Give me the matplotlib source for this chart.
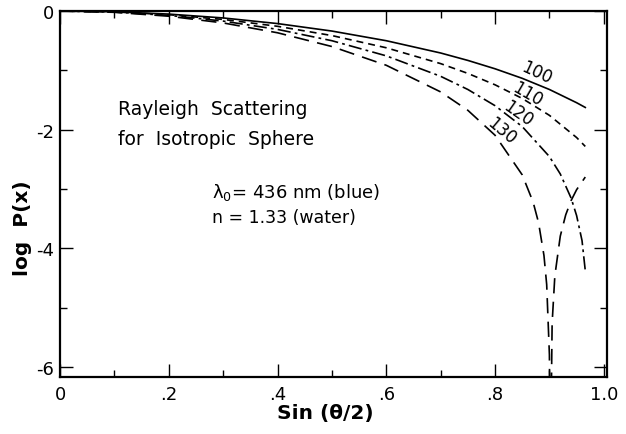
import matplotlib
matplotlib.use("Agg")
import matplotlib.pyplot as plt
from matplotlib.ticker import FixedLocator, FixedFormatter

plt.rcParams['font.family'] = ['DejaVu Sans']
plt.rcParams['lines.scale_dashes'] = False

# sin(theta/2) sample points and log P(x) for each sphere size (nm)
s_a = [0, .1, .2, .3, .4, .5, .6, .7, .75, .8, .85, .9, .95, .966]
logp_100 = [0, -0.013, -0.052, -0.117, -0.212, -0.338, -0.501, -0.708, -0.833,
            -0.974, -1.135, -1.323, -1.546, -1.626]
logp_110 = [0, -0.015, -0.062, -0.142, -0.258, -0.414, -0.620, -0.887, -1.052,
            -1.244, -1.474, -1.759, -2.133, -2.283]

s_120 = [0, .1, .2, .3, .4, .5, .6, .7, .75, .8, .85, .9, .92, .94, .95, .96, .966]
logp_120 = [0, -0.018, -0.074, -0.170, -0.310, -0.501, -0.756, -1.101, -1.323,
            -1.596, -1.948, -2.454, -2.747, -3.156, -3.448, -3.871, -4.38]

s_130 = [0, .1, .2, .3, .4, .5, .6, .7, .75, .8, .85, .87, .88, .89, .895, .9,
         .9017, .905, .91, .92, .93, .94, .95, .966]
logp_130 = [0, -0.022, -0.088, -0.201, -0.367, -0.599, -0.915, -1.364, -1.674,
            -2.094, -2.762, -3.220, -3.566, -4.122, -4.611, -5.794,
            -8.0, -5.264, -4.465, -3.795, -3.436, -3.194, -3.013, -2.799]

x_ticks = [0, .2, .4, .6, .8, 1.0]
x_ticklabels = ['0', '.2', '.4', '.6', '.8', '1.0']
y_ticks = [0, -2, -4, -6]
y_ticklabels = ['0', '-2', '-4', '-6']

fig = plt.figure(figsize=(6.26, 4.35), dpi=100)
ax = fig.add_axes([60 / 626, 1 - 378 / 435, 546.5 / 626, 366 / 435])

lw = 1.2
ax.plot(s_a, logp_100, color='black', lw=lw)
ax.plot(s_a, logp_110, color='black', lw=lw, dashes=(5, 3.6))
ax.plot(s_120, logp_120, color='black', lw=lw, dashes=(9.5, 3, 2, 3))
ax.plot(s_130, logp_130, color='black', lw=lw, dashes=(11, 6))

ax.set_xlim(0, 1.005)
ax.set_ylim(-6.17, 0)

ax.xaxis.set_major_locator(FixedLocator(x_ticks))
ax.xaxis.set_major_formatter(FixedFormatter(x_ticklabels))
ax.xaxis.set_minor_locator(FixedLocator([.1, .3, .5, .7, .9]))
ax.yaxis.set_major_locator(FixedLocator(y_ticks))
ax.yaxis.set_major_formatter(FixedFormatter(y_ticklabels))
ax.yaxis.set_minor_locator(FixedLocator([-1, -3, -5]))

ax.tick_params(which='both', direction='in', top=True, right=True, width=1.0,
               labelsize=13, colors='black')
ax.tick_params(which='major', length=9.5)
ax.tick_params(which='minor', length=5)
ax.tick_params(axis='x', pad=6)
ax.tick_params(axis='y', pad=4)
for sp in ax.spines.values():
    sp.set_linewidth(1.6)

# curve labels
for txt, x, y, rot in [('100', 0.877, -1.03, -25), ('110', 0.859, -1.40, -30),
                       ('120', 0.842, -1.72, -35), ('130', 0.811, -2.01, -40)]:
    ax.text(x, y, txt, fontsize=12, rotation=rot, ha='center', va='center',
            rotation_mode='anchor')

ax.text(0.1066, -1.737, 'Rayleigh  Scattering', fontsize=13.5, va='baseline')
ax.text(0.1066, -2.24, 'for  Isotropic  Sphere', fontsize=13.5, va='baseline')
ax.text(0.279, -3.13, 'λ$_0$= 436 nm (blue)', fontsize=13, va='baseline')
ax.text(0.279, -3.56, 'n = 1.33 (water)', fontsize=12.5, va='baseline')

fig.text(325 / 626, 1 - 414 / 435, 'Sin (θ/2)', fontsize=14.5, ha='center',
         va='center', fontweight='semibold')
fig.text(23 / 626, 1 - 228 / 435, 'log  P(x)', fontsize=14.5, ha='center',
         va='center', rotation=90, fontweight='semibold')

fig.savefig('out.png', dpi=100)
